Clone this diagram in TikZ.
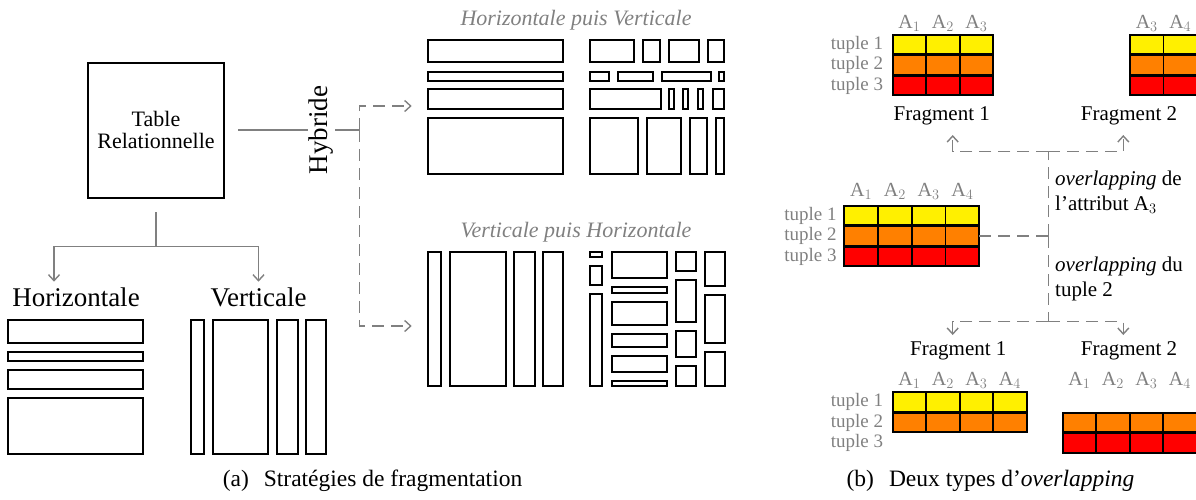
\documentclass[tikz,border=0pt]{standalone}
\usepackage{fontspec}
\setmainfont{Liberation Serif}
\usetikzlibrary{arrows.meta}
\definecolor{tgray}{RGB}{128,128,128}
\definecolor{cyel}{RGB}{255,240,0}
\definecolor{corg}{RGB}{255,128,0}
\definecolor{cred}{RGB}{255,0,0}
\begin{document}
\begin{tikzpicture}[x=1pt,y=-1pt,
  conn/.style={draw=tgray, line width=1.4pt},
  dsh/.style={draw=tgray, line width=1.4pt, dash pattern=on 12pt off 7pt},
  frag/.style={draw=black, line width=2pt},
  tip/.style={-{Straight Barb[length=6pt,width=11pt]}},
  cell/.style={draw=black, line width=1.8pt, minimum width=33.5pt, minimum height=19.5pt, inner sep=0pt, outer sep=0pt},
  hdr/.style={text=tgray, font=\fontsize{20}{24}\selectfont, anchor=base, inner sep=0pt},
  rowlab/.style={text=tgray, font=\fontsize{19}{22}\selectfont, anchor=east, inner sep=0pt},
  lab/.style={font=\fontsize{21}{25}\selectfont, anchor=base, inner sep=0pt},
  big/.style={font=\fontsize{27}{30}\selectfont, anchor=base, inner sep=0pt},
  ttl/.style={font=\fontsize{22}{26}\selectfont\itshape, text=tgray, anchor=base, inner sep=0pt},
  captxt/.style={font=\fontsize{23.5}{28}\selectfont, anchor=base, inner sep=0pt}
]
\useasboundingbox (0,0) rectangle (1196,499);
\clip (0,0) rectangle (1196,499);

% ---------- (a) ----------
\node[draw, line width=2pt, minimum width=136pt, minimum height=135pt, align=center,
      font=\fontsize{22}{21.7}\selectfont, inner sep=0pt] (tab) at (156,130) {Table\\Relationnelle};
\node[rotate=90, fill=white, inner sep=1.5pt, font=\fontsize{27}{30}\selectfont] (hyb) at (321.5,130) {Hybride};

\coordinate (jh) at (359.3,130);
\coordinate (hIn) at (411.7,106);
\coordinate (vIn) at (411.7,326);
\draw[conn, shorten <=13pt] (tab.east) -- (hyb);
\draw[conn] (hyb) -- (jh);
\draw[dsh, tip] (jh) |- (hIn);
\draw[dsh, tip] (jh) |- (vIn);

\coordinate (jd) at (156,246.7);
\coordinate (hArr) at (54,281.7);
\coordinate (vArr) at (258.5,281.7);
\draw[conn, shorten <=13.7pt] (tab.south) -- (jd);
\draw[conn, tip] (jd) -| (hArr);
\draw[conn, tip] (jd) -| (vArr);

\node[big] (hlab) at (76,306.7) {Horizontale};
\node[big] (vlab) at (258.5,306.7) {Verticale};

% horizontal fragments
\foreach \a/\b in {320/342.7, 351.7/360.7, 370/389.3, 398.3/454}
  \draw[frag] (8.3,\a) rectangle (143.3,\b);
% vertical fragments
\foreach \a/\b in {191/204, 212.7/268.3, 277.3/297.7, 306/326}
  \draw[frag] (\a,320) rectangle (\b,454);

% Horizontale puis Verticale
\node[ttl] (t1) at (576,25) {Horizontale puis Verticale};
\foreach \a/\b in {40/62.3, 71.7/80.7, 89.3/109.3, 118.3/174}
  \draw[frag] (428.3,\a) rectangle (563.3,\b);
\foreach \a/\b in {590/634.3, 643.3/660, 668.7/699.3, 707.7/724.3}
  \draw[frag] (\a,40) rectangle (\b,62.3);
\foreach \a/\b in {590/609.3, 618.3/652.7, 661.7/711, 719/724.3}
  \draw[frag] (\a,71.7) rectangle (\b,80.7);
\foreach \a/\b in {590/660.7, 669.3/674, 683.3/688.3, 698.3/703.3, 712.7/724.3}
  \draw[frag] (\a,89.3) rectangle (\b,109.3);
\foreach \a/\b in {590/638.3, 647.3/681, 690/706.7, 716/724.3}
  \draw[frag] (\a,118.3) rectangle (\b,174);

% Verticale puis Horizontale
\node[ttl] (t2) at (576,237.3) {Verticale puis Horizontale};
\foreach \a/\b in {428.3/441, 450/505.7, 514.3/535, 543.3/563.3}
  \draw[frag] (\a,251.7) rectangle (\b,385.7);
\foreach \a/\b in {251.7/256.7, 266/285.3, 294.3/385.7}
  \draw[frag] (590,\a) rectangle (602.3,\b);
\foreach \a/\b in {251.7/278.3, 287.3/292.7, 301.7/325, 334/346.7, 355.7/371.7, 380.7/385.7}
  \draw[frag] (611.7,\a) rectangle (667.3,\b);
\foreach \a/\b in {251.7/271, 280/321.7, 330.7/357.3, 366/385.7}
  \draw[frag] (676,\a) rectangle (696,\b);
\foreach \a/\b in {251.7/285.7, 295/342.7, 352.3/385.7}
  \draw[frag] (705,\a) rectangle (725,\b);

\node[captxt] (capa) at (372.5,486) {(a)\hspace{15pt}Stratégies de fragmentation};

% ---------- (b) ----------
% top fragment 1
\foreach \c/\x in {1/909.45, 2/942.95, 3/976.45} {
  \node[cell, fill=cyel] (a-1-\c) at (\x,44.5) {};
  \node[cell, fill=corg] (a-2-\c) at (\x,65) {};
  \node[cell, fill=cred] (a-3-\c) at (\x,85.5) {};
  \node[hdr] (ah-\c) at (\x,28) {$\mathrm{A}_{\c}$};
}
\node[rowlab] (ar1) at (883.3,44.5) {tuple 1};
\node[rowlab] (ar2) at (883.3,65) {tuple 2};
\node[rowlab] (ar3) at (883.3,85.5) {tuple 3};
\node[lab] (f1a) at (941.7,120.7) {Fragment 1};

% top fragment 2
\foreach \c/\x in {3/1146.75, 4/1180.25} {
  \node[cell, fill=cyel] (b-1-\c) at (\x,44.5) {};
  \node[cell, fill=corg] (b-2-\c) at (\x,65) {};
  \node[cell, fill=cred] (b-3-\c) at (\x,85.5) {};
  \node[hdr] (bh-\c) at (\x,28) {$\mathrm{A}_{\c}$};
}
\node[lab] (f2a) at (1129,120.7) {Fragment 2};

% middle table
\foreach \c/\x in {1/861.2, 2/894.95, 3/928.7, 4/962.45} {
  \node[cell, minimum width=33.75pt, fill=cyel] (m-1-\c) at (\x,215.5) {};
  \node[cell, minimum width=33.75pt, fill=corg] (m-2-\c) at (\x,236) {};
  \node[cell, minimum width=33.75pt, fill=cred] (m-3-\c) at (\x,256.5) {};
  \node[hdr] (mh-\c) at (\x,196.7) {$\mathrm{A}_{\c}$};
}
\node[rowlab] (mr1) at (836.7,215.5) {tuple 1};
\node[rowlab] (mr2) at (836.7,236) {tuple 2};
\node[rowlab] (mr3) at (836.7,256.5) {tuple 3};

% bottom fragment 1
\foreach \c/\x in {1/909.45, 2/942.95, 3/976.45, 4/1009.95} {
  \node[cell, fill=cyel] (c-1-\c) at (\x,402) {};
  \node[cell, fill=corg] (c-2-\c) at (\x,422.5) {};
  \node[hdr] (ch-\c) at (\x,385) {$\mathrm{A}_{\c}$};
}
\node[rowlab] (cr1) at (883.3,402) {tuple 1};
\node[rowlab] (cr2) at (883.3,422.5) {tuple 2};
\node[rowlab] (cr3) at (883.3,443) {tuple 3};
\node[lab] (f1b) at (958.3,355) {Fragment 1};

% bottom fragment 2
\foreach \c/\x in {1/1079.45, 2/1112.95, 3/1146.45, 4/1179.95} {
  \node[cell, fill=corg] (d-2-\c) at (\x,422.5) {};
  \node[cell, fill=cred] (d-3-\c) at (\x,443) {};
  \node[hdr] (dh-\c) at (\x,385) {$\mathrm{A}_{\c}$};
}
\node[lab] (f2b) at (1129,355) {Fragment 2};

% dashed connectors
\coordinate (jr) at (1048.3,236);
\coordinate (jrt) at (1048.3,151.7);
\coordinate (jrb) at (1048.3,321.7);
\coordinate (upL) at (952.7,135);
\coordinate (upR) at (1123.3,135);
\coordinate (dnL) at (952.7,335);
\coordinate (dnR) at (1123.3,335);
\draw[dsh] (m-2-4.east) -- (jr);
\draw[dsh] (jr) -- (jrt);
\draw[dsh] (jr) -- (jrb);
\draw[dsh, tip] (jrt) -| (upL);
\draw[dsh, tip] (jrt) -| (upR);
\draw[dsh, tip] (jrb) -| (dnL);
\draw[dsh, tip] (jrb) -| (dnR);

\node[font=\fontsize{21}{25}\selectfont, align=left, anchor=north west, inner sep=0pt] (ov1) at (1055,170.5)
  {\textit{overlapping} de\\l’attribut $\mathrm{A}_3$};
\node[font=\fontsize{21}{25}\selectfont, align=left, anchor=north west, inner sep=0pt] (ov2) at (1055,257.2)
  {\textit{overlapping} du\\tuple 2};

\node[captxt] (capb) at (990.5,486) {(b)\hspace{15pt}Deux types d’\textit{overlapping}};
\end{tikzpicture}
\end{document}
